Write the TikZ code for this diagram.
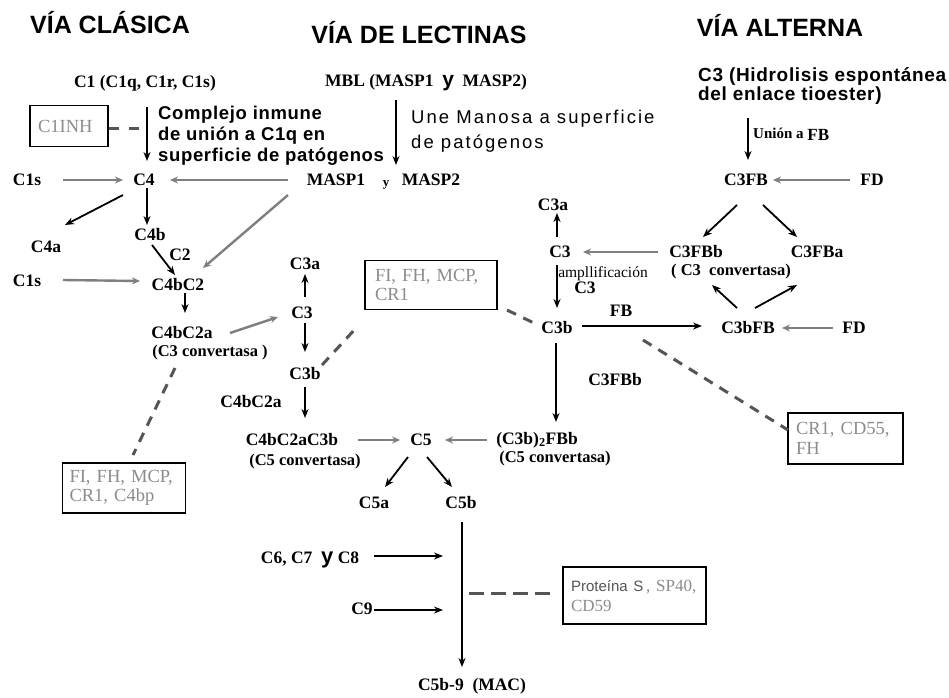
\documentclass[tikz,border=0pt]{standalone}
\usepackage{fontspec}
\setmainfont{Liberation Serif}
\newfontfamily\hsans{Liberation Sans}
\newfontfamily\spsans[LetterSpace=11]{Liberation Sans}
\newfontfamily\bsans[LetterSpace=3.5]{Liberation Sans}
\usetikzlibrary{arrows.meta}
\definecolor{garrow}{HTML}{7F7F7F}
\definecolor{gtext}{HTML}{8C8C8C}
\definecolor{dashc}{HTML}{555555}
\definecolor{ptext}{HTML}{555555}
\begin{document}
\begin{tikzpicture}[x=1pt,y=-1pt,
  lab/.style={font=\bfseries\fontsize{17.5}{19}\selectfont, inner sep=1pt},
  small/.style={font=\bfseries\fontsize{16.5}{18}\selectfont, inner sep=1pt},
  head/.style={font=\hsans\bfseries\fontsize{25}{28}\selectfont, inner sep=0pt},
  cmpst/.style={font=\bsans\bfseries\fontsize{18.5}{21}\selectfont, align=left, inner sep=0pt},
  unest/.style={font=\spsans\fontsize{18.5}{25}\selectfont, align=left, inner sep=0pt},
  boxst/.style={draw=black, line width=1.8pt, inner xsep=8pt, inner ysep=0pt, align=left,
     font=\fontsize{18.5}{19.5}\selectfont, text=gtext},
  barrow/.style={draw=black, line width=1.8pt, -{Stealth[length=9pt,width=7pt]}},
  garr/.style={draw=garrow, line width=2.4pt, -{Stealth[length=8pt,width=7pt]}},
  dline/.style={draw=dashc, line width=3pt, dash pattern=on 10pt off 8pt}
]
\useasboundingbox (0,0) rectangle (949,697);
\fill[white] (0,0) rectangle (949,697);

% headers
\node[head] (hcl) at (110,23) {VÍA CLÁSICA};
\node[head] (hle) at (419,33) {VÍA DE LECTINAS};
\node[head] (hal) at (780,25) {VÍA ALTERNA};

% classical
\node[lab] (c1) at (145,83) {C1 (C1q, C1r, C1s)};
\node[boxst, minimum width=78pt, minimum height=41pt, text width=62pt] (c1inh) at (69,126) {C1INH};
\coordinate (dA) at (143,128);
\node[cmpst, anchor=west] (cmp) at (158,136) {Complejo inmune\\de unión a C1q en\\superficie de patógenos};
\node[lab] (c1sA) at (27,180) {C1s};
\node[lab] (c4) at (144,180) {C4};
\node[lab] (c4a) at (46,247) {C4a};
\node[lab] (c4b) at (150,235) {C4b};
\node[lab] (c2) at (180,255) {C2};
\node[lab] (c1sB) at (27,281) {C1s};
\node[lab] (c4bc2) at (178,285) {C4bC2};
\node[lab] (c4bc2a) at (182,333) {C4bC2a};
\node[small] (cv3) at (210,353) {(C3 convertasa )};
\node[boxst, minimum width=123pt, minimum height=50pt, text width=109pt, inner xsep=7pt] (box2) at (124,488) {FI, FH, MCP,\\CR1, C4bp};

% lectins
\node[lab] (mbl) at (426,83) {MBL (MASP1 \ {\hsans\bfseries\fontsize{21}{21}\selectfont y}\ \ MASP2)};
\node[unest, anchor=west] (une) at (411,131) {Une Manosa a superficie\\de patógenos};
\node[lab] (masp1) at (336,180) {MASP1};
\node[lab, font=\bfseries\fontsize{13}{13}\selectfont] (ym) at (386,185) {y};
\node[lab] (masp2) at (431,180) {MASP2};

% middle
\node[lab] (c3aM) at (305,264) {C3a};
\node[lab] (c3M) at (302,313) {C3};
\node[lab] (c3bM) at (305,374) {C3b};
\node[boxst, minimum width=132pt, minimum height=49pt, text width=112pt, inner xsep=10pt] (box1) at (431,285) {FI, FH, MCP,\\CR1};
\node[lab] (c4bc2a2) at (251,402) {C4bC2a};
\node[lab] (c4bc2ac3b) at (292,440) {C4bC2aC3b};
\node[small] (cv5L) at (305,462) {(C5 convertasa)};
\node[lab] (c5) at (421,440) {C5};
\node[lab] (c3b2) at (537,440) {(C3b)\textsubscript{2}FBb};
\node[small] (cv5R) at (555,459) {(C5 convertasa)};
\node[lab] (c5a) at (374,503) {C5a};
\node[lab] (c5b) at (461,503) {C5b};
\node[lab] (c678) at (310,560) {C6, C7 \ {\hsans\bfseries\fontsize{22}{22}\selectfont y}\ C8};
\node[lab] (c9) at (362,609) {C9};
\coordinate (l1) at (443,556);
\coordinate (l2) at (443,610);
\coordinate (dB) at (469,593);
\node[boxst, minimum width=143pt, minimum height=57pt, text width=127pt, inner xsep=8pt,
  font=\fontsize{17}{20}\selectfont] (box4) at (634.5,595.5)
  {{\hsans\fontsize{15}{15}\selectfont\color{ptext}Proteína S}\,, SP40,\\CD59};
\node[lab] (mac) at (472,686) {C5b-9 \ (MAC)};

% alternative
\node[cmpst, anchor=west, font=\bsans\bfseries\fontsize{19}{19}\selectfont] (c3h) at (698,86) {C3 (Hidrolisis espontánea\\del enlace tioester)};
\node[lab, anchor=west, font=\bfseries\fontsize{15}{15}\selectfont] (union) at (752,134) {Unión a {\fontsize{17}{17}\selectfont\raisebox{-2pt}{FB}}};
\node[lab] (c3fb) at (746,180) {C3FB};
\node[lab] (fdA) at (872,180) {FD};
\node[lab] (c3aR) at (553,205) {C3a};
\node[lab] (c3R) at (560,252) {C3};
\node[lab] (c3fbb) at (696,252) {C3FBb};
\node[small] (cvR) at (731,272) {( C3 \ convertasa)};
\node[lab] (c3fba) at (817,252) {C3FBa};
\node[lab, font=\fontsize{15.5}{16}\selectfont] (ampl) at (603,274) {ampllificación};
\node[lab] (c3amp) at (585,288) {C3};
\node[lab] (c3bR) at (557,328) {C3b};
\node[lab] (fbl) at (621,311) {FB};
\node[lab] (c3bfb) at (748,328) {C3bFB};
\node[lab] (fdB) at (854,328) {FD};
\node[lab] (c3fbbL) at (615,380) {C3FBb};
\node[boxst, minimum width=115pt, minimum height=51pt, text width=99pt] (box3) at (845.5,438.5) {CR1, CD55,\\FH};

% ---- connectors: classical
\draw[barrow] ([shift={(2,24)}]c1.center) -- ([shift={(3,-19)}]c4.center);
\draw[dline, dash pattern=on 10pt off 10pt] ([shift={(0,2)}]c1inh.east) -- (dA);
\draw[garr] ([shift={(36,0)}]c1sA.center) -- ([shift={(-21,0)}]c4.center);
\draw[garr] ([shift={(-48,0)}]masp1.center) -- ([shift={(26,0)}]c4.center);
\draw[barrow] ([shift={(-21,15)}]c4.center) -- ([shift={(19,-22)}]c4a.center);
\draw[barrow] ([shift={(3,8)}]c4.center) -- ([shift={(-3,-10)}]c4b.center);
\draw[barrow] ([shift={(2,10)}]c4b.center) -- ([shift={(-3,-10)}]c4bc2.center);
\draw[garr] ([shift={(-48,15)}]masp1.center) -- ([shift={(25,-17)}]c4bc2.center);
\draw[garr] ([shift={(36,-1)}]c1sB.center) -- ([shift={(-38,-4)}]c4bc2.center);
\draw[barrow] ([shift={(7,8)}]c4bc2.center) -- ([shift={(3,-20)}]c4bc2a.center);
\draw[garr] ([shift={(48,0)}]c4bc2a.center) -- ([shift={(-24,4)}]c3M.center);
\draw[dline] ([shift={(-35,15)}]cv3.center) -- ([shift={(9,-33)}]box2.center);

% lectins
\draw[barrow] ([shift={(-30,17)}]mbl.center) -- ([shift={(10,-20)}]ym.center);

% middle
\draw[barrow] ([shift={(3,-16)}]c3M.center) -- ([shift={(0,10)}]c3aM.center);
\draw[barrow] ([shift={(3,10)}]c3M.center) -- ([shift={(0,-22)}]c3bM.center);
\draw[dline] ([shift={(17,-9)}]c3bM.center) -- ([shift={(-74,42)}]box1.center);
\draw[dline] ([shift={(76,25)}]box1.center) -- ([shift={(-19,-3)}]c3bR.center);
\draw[barrow] ([shift={(0,13)}]c3bM.center) -- ([shift={(13,-22)}]c4bc2ac3b.center);
\draw[garr] ([shift={(66,0)}]c4bc2ac3b.center) -- ([shift={(-21,0)}]c5.center);
\draw[garr] ([shift={(-50,0)}]c3b2.center) -- ([shift={(24,0)}]c5.center);
\draw[barrow] ([shift={(-13,17)}]c5.center) -- ([shift={(11,-16)}]c5a.center);
\draw[barrow] ([shift={(6,17)}]c5.center) -- ([shift={(-9,-16)}]c5b.center);
\draw[barrow] ([shift={(1,19)}]c5b.center) -- ([shift={(-10,-19)}]mac.center);
\draw[barrow] ([shift={(64,-4)}]c678.center) -- (l1);
\draw[barrow] ([shift={(12,1)}]c9.center) -- (l2);
\draw[dline, dash pattern=on 15pt off 7pt] (dB) -- ([shift={(-82,-2.5)}]box4.center);

% alternative
\draw[barrow] ([shift={(-4,-16)}]union.west) -- ([shift={(2,-20)}]c3fb.center);
\draw[garr] ([shift={(-22,0)}]fdA.center) -- ([shift={(27,0)}]c3fb.center);
\draw[barrow] ([shift={(-9,25)}]c3fb.center) -- ([shift={(7,-15)}]c3fbb.center);
\draw[barrow] ([shift={(17,25)}]c3fb.center) -- ([shift={(-20,-15)}]c3fba.center);
\draw[garr] ([shift={(-38,0)}]c3fbb.center) -- ([shift={(23,0)}]c3R.center);
\draw[barrow] ([shift={(-3,-15)}]c3R.center) -- ([shift={(4,8)}]c3aR.center);
\draw[barrow] ([shift={(-3,13)}]c3R.center) -- ([shift={(0,-20)}]c3bR.center);
\draw[barrow] ([shift={(25,-2)}]c3bR.center) -- ([shift={(-46,-2)}]c3bfb.center);
\draw[garr] ([shift={(-21,0)}]fdB.center) -- ([shift={(34,0)}]c3bfb.center);
\draw[barrow] ([shift={(-11,-20)}]c3bfb.center) -- ([shift={(16,33)}]c3fbb.center);
\draw[barrow] ([shift={(7,-20)}]c3bfb.center) -- ([shift={(-20,33)}]c3fba.center);
\draw[barrow] ([shift={(-1,15)}]c3bR.center) -- ([shift={(19,-18)}]c3b2.center);
\draw[dline] ([shift={(86,12)}]c3bR.center) -- ([shift={(-57.5,-8.5)}]box3.center);
\end{tikzpicture}
\end{document}
